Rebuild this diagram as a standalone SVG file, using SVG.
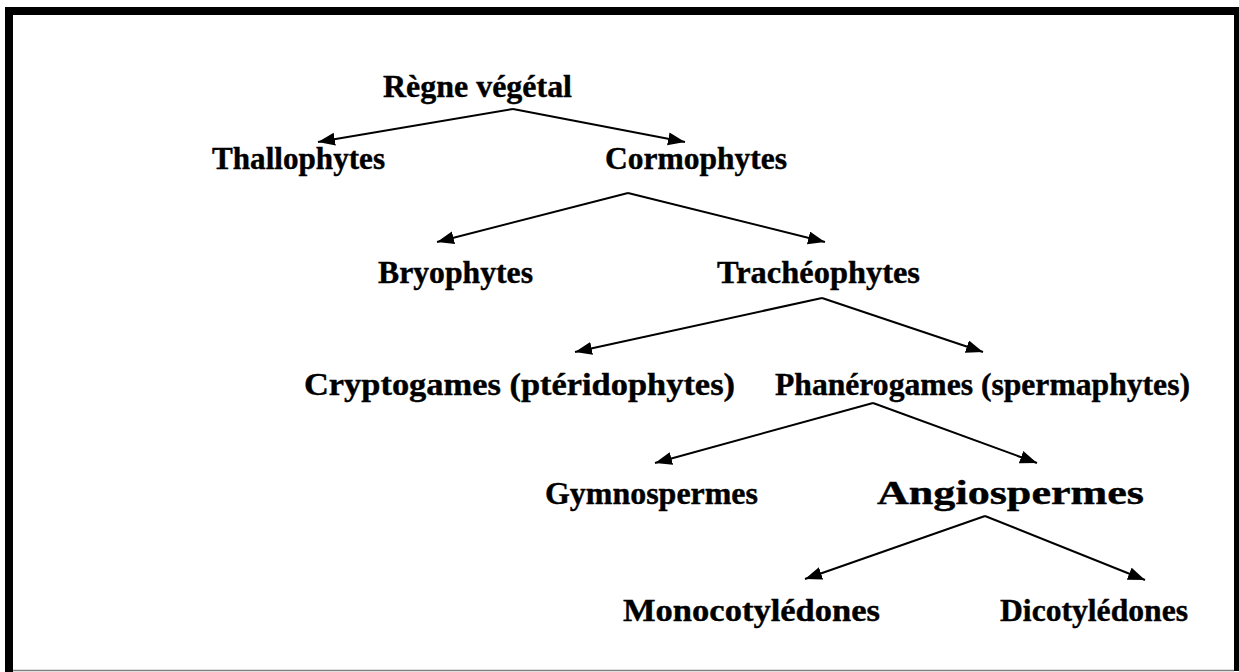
<svg xmlns="http://www.w3.org/2000/svg" width="1239" height="672" viewBox="0 0 1239 672">
<style>
text{font-family:"Liberation Serif","Times New Roman",serif;font-weight:bold;font-size:31px;fill:#000;stroke:#000;stroke-width:0.4}
.c{stroke:#000;stroke-width:2;fill:none;marker-end:url(#ah)}
</style>
<defs>
<marker id="ah" markerUnits="userSpaceOnUse" markerWidth="18" markerHeight="14" refX="17" refY="6.5" orient="auto">
<path d="M0,0 L17,6.5 L0,13 z" fill="#000"/>
</marker>
</defs>
<rect width="1239" height="672" fill="#fff"/>
<g id="frame">
<rect x="5" y="7" width="1234" height="8" fill="#000"/>
<rect x="5" y="7" width="8" height="665" fill="#000"/>
<rect x="1234" y="7" width="5" height="664" fill="#000"/>
<line x1="13" y1="670.5" x2="1234" y2="670.5" stroke="#808080" stroke-width="1.5"/>
</g>
<g id="connectors">
<polyline class="c" points="513,109 318,142"/>
<polyline class="c" points="513,109 685,142"/>
<polyline class="c" points="628,193 437,242"/>
<polyline class="c" points="628,193 825,242"/>
<polyline class="c" points="822,298 575,352"/>
<polyline class="c" points="822,298 983,352"/>
<polyline class="c" points="873,403 655,463"/>
<polyline class="c" points="873,403 1037,463"/>
<polyline class="c" points="985,516 805,579"/>
<polyline class="c" points="985,516 1145,580"/>
</g>
<g id="n-regne"><text x="383" y="97" textLength="189" lengthAdjust="spacingAndGlyphs">Règne végétal</text></g>
<g id="n-thallo"><text x="212" y="169" textLength="173" lengthAdjust="spacingAndGlyphs">Thallophytes</text></g>
<g id="n-cormo"><text x="605" y="169" textLength="182" lengthAdjust="spacingAndGlyphs">Cormophytes</text></g>
<g id="n-bryo"><text x="378" y="283" textLength="155" lengthAdjust="spacingAndGlyphs">Bryophytes</text></g>
<g id="n-trach"><text x="717" y="283" textLength="203" lengthAdjust="spacingAndGlyphs">Trachéophytes</text></g>
<g id="n-crypto"><text x="304" y="395" textLength="431" lengthAdjust="spacingAndGlyphs">Cryptogames (ptéridophytes)</text></g>
<g id="n-phanero"><text x="775" y="395" textLength="415" lengthAdjust="spacingAndGlyphs">Phanérogames (spermaphytes)</text></g>
<g id="n-gymno"><text x="545" y="504" textLength="213" lengthAdjust="spacingAndGlyphs">Gymnospermes</text></g>
<g id="n-angio"><text x="877" y="504" textLength="267" lengthAdjust="spacingAndGlyphs" style="font-size:33px">Angiospermes</text></g>
<g id="n-mono"><text x="623" y="621" textLength="257" lengthAdjust="spacingAndGlyphs">Monocotylédones</text></g>
<g id="n-dico"><text x="1000" y="621" textLength="188" lengthAdjust="spacingAndGlyphs">Dicotylédones</text></g>
</svg>
